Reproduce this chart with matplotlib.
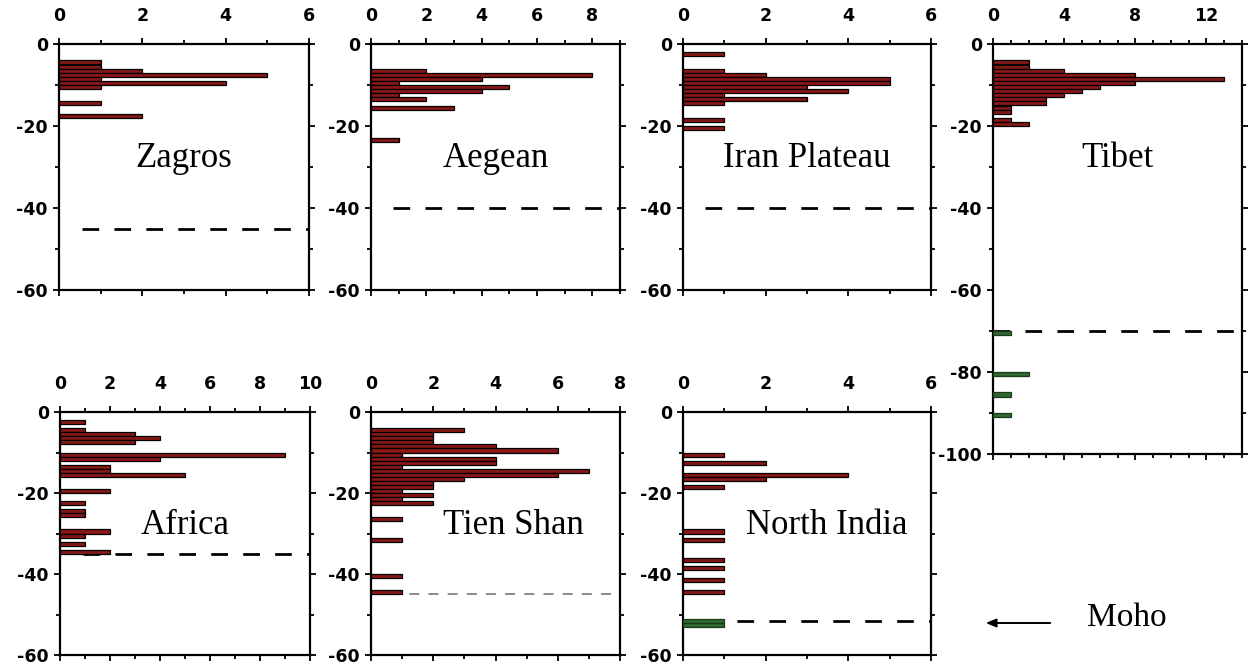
import matplotlib
matplotlib.use("Agg")
import matplotlib.pyplot as plt
from matplotlib.ticker import MultipleLocator

plt.rcParams['axes.unicode_minus'] = False

# depth of bin top (km, positive down) and number of events per 1-km bin
zagros_depth = [4, 5, 6, 7, 8, 9, 10, 14, 17]
zagros_count = [1, 1, 2, 5, 1, 4, 1, 1, 2]

aegean_depth = [6, 7, 8, 9, 10, 11, 12, 13, 15, 23]
aegean_count = [2, 8, 4, 1, 5, 4, 1, 2, 3, 1]

iran_depth = [2, 6, 7, 8, 9, 10, 11, 12, 13, 14, 18, 20]
iran_count = [1, 1, 2, 5, 5, 3, 4, 1, 3, 1, 1, 1]

tibet_depth = [4, 5, 6, 7, 8, 9, 10, 11, 12, 13, 14, 15, 16, 18, 19]
tibet_count = [2, 2, 4, 8, 13, 8, 6, 5, 4, 3, 3, 1, 1, 1, 2]
tibet_mantle_depth = [70, 80, 85, 90]
tibet_mantle_count = [1, 2, 1, 1]

africa_depth = [2, 4, 5, 6, 7, 10, 11, 13, 14, 15, 19, 22, 24, 25, 29, 30, 32, 34]
africa_count = [1, 1, 3, 4, 3, 9, 4, 2, 2, 5, 2, 1, 1, 1, 2, 1, 1, 2]

tienshan_depth = [4, 5, 6, 7, 8, 9, 10, 11, 12, 13, 14, 15, 16, 17, 18, 19, 20, 21,
                  22, 26, 31, 40, 44]
tienshan_count = [3, 2, 2, 2, 4, 6, 1, 4, 4, 1, 7, 6, 3, 2, 2, 1, 2, 1,
                  2, 1, 1, 1, 1]

nindia_depth = [10, 12, 15, 16, 18, 29, 31, 36, 38, 41, 44]
nindia_count = [1, 2, 4, 2, 1, 1, 1, 1, 1, 1, 1]
nindia_mantle_depth = [51, 52]
nindia_mantle_count = [1, 1]

moho = {"Zagros": 45, "Aegean": 40, "Iran Plateau": 40, "Tibet": 70,
        "Africa": 35, "Tien Shan": 45, "North India": 51.7}

RED = "#8b1818"
GREEN = "#2f6a2f"

W, H = 1249, 666
fig = plt.figure(figsize=(W / 100, H / 100), dpi=100)


def px_axes(x0, x1, ytop, ybot):
    return fig.add_axes([x0 / W, 1 - ybot / H, (x1 - x0) / W, (ybot - ytop) / H])


def panel(ax, name, depth, count, xmax, xmaj, ymin, tx=0.5,
          mdepth=None, mcount=None, mstart=0.09, mcolor="black", mlw=2.0):
    ax.barh([-d for d in depth], count, height=-1, align="edge",
            color=RED, edgecolor="black", linewidth=0.9, zorder=3)
    if mdepth:
        ax.barh([-d for d in mdepth], mcount, height=-1, align="edge",
                color=GREEN, edgecolor="#1a3a1a", linewidth=0.9, zorder=3)
    ax.plot([mstart, 1], [-moho[name]] * 2, transform=ax.get_yaxis_transform(),
            color=mcolor, lw=mlw, linestyle=(0, (6, 5.5)), zorder=2)
    ax.set_xlim(0, xmax)
    ax.set_ylim(ymin, 0)
    ax.xaxis.set_major_locator(MultipleLocator(xmaj))
    ax.xaxis.set_minor_locator(MultipleLocator(1))
    ax.yaxis.set_major_locator(MultipleLocator(20))
    ax.yaxis.set_minor_locator(MultipleLocator(10))
    ax.tick_params(which="both", direction="out", top=True, bottom=True,
                   left=True, right=True, labeltop=True, labelbottom=False,
                   labelleft=True, labelright=False, width=1.3)
    ax.tick_params(which="major", length=4)
    ax.tick_params(which="minor", length=3)
    ax.tick_params(axis="x", pad=10)
    ax.tick_params(axis="y", pad=4)
    for lab in ax.get_xticklabels() + ax.get_yticklabels():
        lab.set_fontfamily("DejaVu Sans")
        lab.set_fontweight("bold")
        lab.set_fontsize(12.5)
    for s in ax.spines.values():
        s.set_linewidth(1.6)
    ax.text(tx, -30, name, transform=ax.get_yaxis_transform(), ha="center",
            va="baseline", fontsize=25, family="Liberation Serif")


ax = px_axes(59, 309, 44, 290)
panel(ax, "Zagros", zagros_depth, zagros_count, 6, 2, -60)
ax = px_axes(371, 620, 44, 290)
panel(ax, "Aegean", aegean_depth, aegean_count, 9, 2, -60)
ax = px_axes(683, 931, 44, 290)
panel(ax, "Iran Plateau", iran_depth, iran_count, 6, 2, -60)
ax = px_axes(993, 1242, 44, 454)
panel(ax, "Tibet", tibet_depth, tibet_count, 14, 4, -100,
      mdepth=tibet_mantle_depth, mcount=tibet_mantle_count, mstart=0.0)

ax = px_axes(60, 310, 412, 655)
panel(ax, "Africa", africa_depth, africa_count, 10, 2, -60)
ax = px_axes(371, 620, 412, 655)
panel(ax, "Tien Shan", tienshan_depth, tienshan_count, 8, 2, -60, tx=0.57,
      mstart=0.0, mcolor="#777777", mlw=1.2)
ax = px_axes(683, 931, 412, 655)
panel(ax, "North India", nindia_depth, nindia_count, 6, 2, -60, tx=0.58,
      mdepth=nindia_mantle_depth, mcount=nindia_mantle_count)

# Moho legend
fig.patches.append(matplotlib.patches.FancyArrowPatch(
    (1053 / W, 1 - 623 / H), (983 / W, 1 - 623 / H), transform=fig.transFigure,
    arrowstyle="-|>,head_length=6,head_width=2.5", color="black", lw=1.4))
fig.text(1087 / W, 1 - 626 / H, "Moho", fontsize=24, family="Liberation Serif",
         ha="left", va="baseline")

plt.savefig("out.png", dpi=100)
